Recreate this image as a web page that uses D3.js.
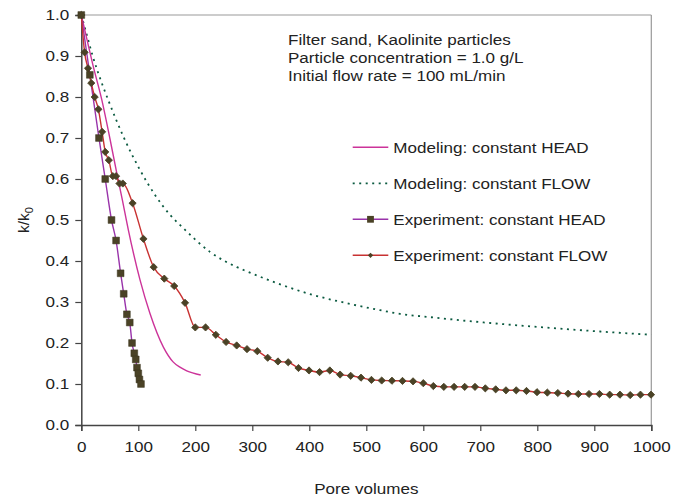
<!DOCTYPE html>
<html>
<head>
<meta charset="UTF-8">
<title>k/k0 vs pore volumes</title>
<script src="https://cdn.jsdelivr.net/npm/d3@7"></script>
<style>
  body { margin: 0; background: #fff; }
  text { font-family: "Liberation Sans", Arial, sans-serif; fill: #222; }
</style>
</head>
<body>
<div id="chart"></div>
<script>
// ---- data ----
const expHeadX = [0, 15, 31, 42, 53, 61, 69, 74.4, 80, 85, 89, 93, 95.5, 97.7, 100, 102, 104.7];
const expHeadY = [1.0, 0.854, 0.70, 0.60, 0.50, 0.45, 0.37, 0.32, 0.27, 0.25, 0.20, 0.175, 0.16, 0.14, 0.126, 0.111, 0.10];

const expFlowX = [0, 5.8, 11.8, 17.5, 23.5, 30, 36.5, 42, 48.3, 55.3, 61, 67, 72.8, 90, 109, 127, 145.6, 163, 182,
  200, 218, 236, 254, 272.6, 290.7, 308.8, 327, 345, 363, 381, 399.5, 418, 436, 454, 472.6, 490.7, 509, 527, 545,
  563.5, 582, 600, 617.6, 636, 654, 672.6, 690.7, 708.8, 727, 745, 763, 781, 799.5, 817.6, 836, 854, 872, 890.7,
  909, 927, 945, 963, 981, 999.5];
const expFlowY = [1.0, 0.909, 0.87, 0.834, 0.80, 0.77, 0.715, 0.666, 0.646, 0.607, 0.607, 0.589, 0.589, 0.541, 0.454,
  0.385, 0.357, 0.339, 0.298, 0.238, 0.238, 0.22, 0.2025, 0.194, 0.185, 0.180, 0.164, 0.155, 0.153, 0.139, 0.133,
  0.129, 0.133, 0.123, 0.12, 0.1155, 0.11, 0.1085, 0.108, 0.1075, 0.1065, 0.102, 0.095, 0.093, 0.093, 0.093, 0.093,
  0.0894, 0.087, 0.0846, 0.0846, 0.083, 0.080, 0.079, 0.078, 0.0764, 0.0756, 0.0756, 0.0756, 0.074, 0.074, 0.073,
  0.074, 0.074];

const modelHeadX = [0, 10, 20, 36, 50, 62, 72, 82.5, 103, 120.5, 144, 161, 173, 185, 209.5];
const modelHeadY = [1.0, 0.94, 0.88, 0.793, 0.70, 0.616, 0.549, 0.476, 0.354, 0.272, 0.19, 0.154, 0.141, 0.132, 0.122];

const modelFlowX = [0, 8, 20, 37, 48, 74, 103, 156, 179, 226, 273, 290, 349, 407, 466, 524, 559, 612, 676, 793, 910, 1000];
const modelFlowY = [1.0, 0.96, 0.9, 0.83, 0.79, 0.703, 0.622, 0.512, 0.48, 0.422, 0.385, 0.375, 0.343, 0.317, 0.297,
  0.28, 0.271, 0.263, 0.254, 0.24, 0.228, 0.22];

const xTicks = [0, 100, 200, 300, 400, 500, 600, 700, 800, 900, 1000];
const yTicks = [0, 0.1, 0.2, 0.3, 0.4, 0.5, 0.6, 0.7, 0.8, 0.9, 1.0];

const legendLabels = ["Modeling: constant HEAD", "Modeling: constant FLOW",
  "Experiment: constant HEAD", "Experiment: constant FLOW"];
const noteLines = ["Filter sand, Kaolinite particles", "Particle concentration = 1.0 g/L",
  "Initial flow rate = 100 mL/min"];

// ---- layout ----
const W = 685, H = 497;
const pLeft = 81.3, pRight = 651.3, pTop = 15, pBottom = 425;
const fs = 15.5;      // font size
const stretch = 1.1;  // text in the picture is a bit wider than normal

const colModelHead = "#cc3399", colModelFlow = "#0b5a40",
      colExpHead = "#9933aa", colExpFlow = "#c83232", colMarker = "#4a4226";

const svg = d3.select("#chart").append("svg").attr("width", W).attr("height", H);

const x = d3.scaleLinear().domain([0, 1000]).range([pLeft, pRight]);
const y = d3.scaleLinear().domain([0, 1]).range([pBottom, pTop]);

// frame: top and right lines grey
svg.append("line").attr("x1", pLeft).attr("x2", pRight).attr("y1", pTop).attr("y2", pTop)
  .attr("stroke", "#999").attr("stroke-width", 1.2);
svg.append("line").attr("x1", pRight).attr("x2", pRight).attr("y1", pTop).attr("y2", pBottom)
  .attr("stroke", "#999").attr("stroke-width", 1.2);

const xAxis = svg.append("g").attr("transform", `translate(0,${pBottom})`)
  .call(d3.axisBottom(x).tickValues(xTicks).tickSize(6).tickPadding(10).tickFormat(d3.format("d")));
const yAxis = svg.append("g").attr("transform", `translate(${pLeft},0)`)
  .call(d3.axisLeft(y).tickValues(yTicks).tickSize(6).tickPadding(6).tickFormat(d3.format(".1f")));
[xAxis, yAxis].forEach(g => {
  g.select(".domain").attr("stroke", "#444").attr("stroke-width", 1.5);
  g.selectAll(".tick line").attr("stroke", "#444").attr("stroke-width", 1.2);
  g.selectAll(".tick text").attr("font-size", fs).attr("fill", "#222")
    .style("font-family", '"Liberation Sans", Arial, sans-serif');
});

// axis titles
svg.append("text").attr("x", (pLeft + pRight) / 2).attr("y", 494).attr("text-anchor", "middle")
  .attr("font-size", fs).text("Pore volumes");
const yl = svg.append("text").attr("transform", `translate(29,${(pTop + pBottom) / 2}) rotate(-90)`)
  .attr("text-anchor", "middle").attr("font-size", fs);
yl.append("tspan").text("k/k");
yl.append("tspan").attr("font-size", 11).attr("dy", 4).text("0");

// ---- curves ----
const line = d3.line().x(d => x(d[0])).y(d => y(d[1])).curve(d3.curveMonotoneX);
const pts = (xs, ys) => xs.map((v, i) => [v, ys[i]]);

svg.append("path").datum(pts(modelFlowX, modelFlowY)).attr("d", line)
  .attr("fill", "none").attr("stroke", colModelFlow).attr("stroke-width", 1.8).attr("stroke-dasharray", "2,4.5");
svg.append("path").datum(pts(modelHeadX, modelHeadY)).attr("d", line)
  .attr("fill", "none").attr("stroke", colModelHead).attr("stroke-width", 1.4);
svg.append("path").datum(pts(expHeadX, expHeadY)).attr("d", line)
  .attr("fill", "none").attr("stroke", colExpHead).attr("stroke-width", 1.4);
svg.append("path").datum(pts(expFlowX, expFlowY)).attr("d", line)
  .attr("fill", "none").attr("stroke", colExpFlow).attr("stroke-width", 1.4);

const sq = d3.symbol().type(d3.symbolSquare).size(46);
const dia = d3.symbol().type(d3.symbolSquare).size(26);

svg.append("g").selectAll("path").data(pts(expFlowX, expFlowY)).join("path")
  .attr("d", dia).attr("transform", d => `translate(${x(d[0])},${y(d[1])}) rotate(45)`)
  .attr("fill", colMarker).attr("stroke", colMarker).attr("stroke-width", 0.8);
svg.append("g").selectAll("path").data(pts(expHeadX, expHeadY)).join("path")
  .attr("d", sq).attr("transform", d => `translate(${x(d[0])},${y(d[1])})`)
  .attr("fill", colMarker).attr("stroke", "#3a341e").attr("stroke-width", 0.5);

// ---- note text ----
noteLines.forEach((t, i) => {
  svg.append("text").attr("x", 288).attr("y", 45 + i * 17.8).attr("font-size", fs).text(t);
});

// ---- legend ----
const lg = svg.append("g");
const lgX1 = 352.7, lgX2 = 388.3, lgY = 147.3, lgStep = 36;
const lgCol = [colModelHead, colModelFlow, colExpHead, colExpFlow];
legendLabels.forEach((t, i) => {
  const yy = lgY + i * lgStep;
  const l = lg.append("line").attr("x1", lgX1).attr("x2", lgX2).attr("y1", yy).attr("y2", yy)
    .attr("stroke", lgCol[i]).attr("stroke-width", i === 1 ? 1.8 : 1.4);
  if (i === 1) l.attr("stroke-dasharray", "2,4.5");
  if (i === 2) lg.append("path").attr("d", sq).attr("transform", `translate(${(lgX1 + lgX2) / 2},${yy})`)
    .attr("fill", colMarker);
  if (i === 3) lg.append("path").attr("d", d3.symbol().type(d3.symbolSquare).size(14))
    .attr("transform", `translate(${(lgX1 + lgX2) / 2},${yy}) rotate(45)`).attr("fill", colMarker);
  lg.append("text").attr("x", 393.3).attr("y", yy + 5.4).attr("font-size", fs).text(t);
});

// widen the plain texts a little, like the picture
svg.selectAll("text").each(function () {
  if (this.querySelector("tspan")) return;
  const w = this.getComputedTextLength();
  d3.select(this).attr("textLength", w * stretch).attr("lengthAdjust", "spacingAndGlyphs");
});
</script>
</body>
</html>
